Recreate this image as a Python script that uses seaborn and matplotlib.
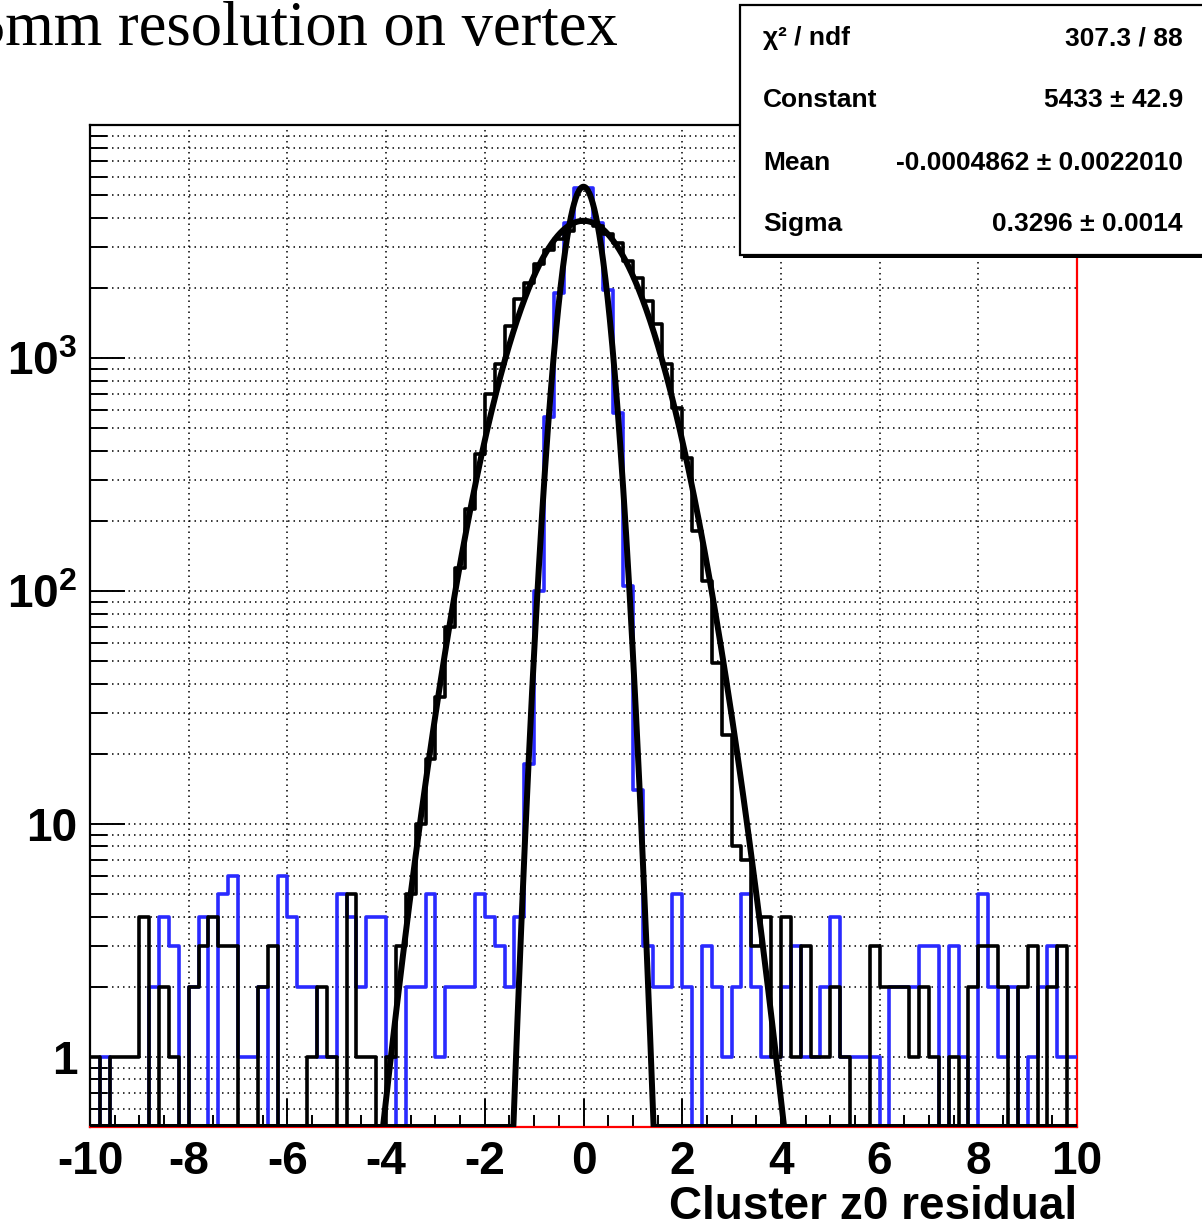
import numpy as np
import pandas as pd
import matplotlib
matplotlib.use("Agg")
import matplotlib.pyplot as plt
from matplotlib import font_manager
from matplotlib.patches import Rectangle
from matplotlib.ticker import FixedLocator, FixedFormatter, NullFormatter
import seaborn as sns

# ---------------------------------------------------------------- data
# 100 bins of width 0.2 on [-10, 10]
X_MIN, X_MAX, N_BINS = -10.0, 10.0, 100

# residuals with the 5 mm vertex constraint (blue)
narrow_counts = [
    0, 1, 0, 0, 0, 0, 2, 4, 3, 0,
    2, 4, 0, 5, 6, 1, 1, 2, 0, 6,
    4, 2, 2, 1, 1, 5, 4, 2, 4, 4,
    1, 0, 2, 2, 5, 1, 2, 2, 2, 5,
    4, 3, 2, 4, 18, 100, 560, 1900, 3800, 5350,
    5350, 3800, 1950, 580, 105, 14, 3, 2, 2, 5,
    2, 0, 3, 2, 1, 2, 5, 2, 1, 1,
    2, 3, 1, 1, 2, 4, 1, 1, 1, 1,
    0, 2, 2, 2, 3, 3, 0, 3, 1, 0,
    5, 2, 1, 2, 0, 1, 2, 3, 1, 1,
]

# residuals without the vertex constraint (black)
wide_counts = [
    1, 0, 1, 1, 1, 4, 0, 2, 1, 0,
    2, 3, 4, 3, 3, 0, 0, 2, 3, 0,
    0, 0, 1, 2, 1, 0, 5, 1, 1, 0,
    1, 3, 5, 10, 19, 35, 70, 125, 225, 386,
    700, 945, 1370, 1790, 2100, 2540, 2900, 3250, 3500, 3850,
    3850, 3700, 3400, 3100, 2600, 2200, 1750, 1400, 945, 610,
    373, 180, 110, 49, 24, 8, 7, 3, 4, 1,
    4, 1, 3, 1, 1, 2, 1, 0, 0, 3,
    2, 2, 2, 1, 2, 1, 0, 1, 0, 2,
    3, 3, 2, 0, 2, 3, 0, 2, 3, 0,
]

# gaussian fit parameters
NARROW_CONST, NARROW_MEAN, NARROW_SIGMA = 5433.0, -0.0004862, 0.3296
WIDE_CONST, WIDE_MEAN, WIDE_SIGMA = 3880.0, 0.0, 0.96

stats_rows = [
    ("\u03c7\u00b2 / ndf", "307.3 / 88"),
    ("Constant", "5433 \u00b1 42.9"),
    ("Mean", "-0.0004862 \u00b1 0.0022010"),
    ("Sigma", "0.3296 \u00b1 0.0014"),
]

title_text = "5mm resolution on vertex"
x_title = "Cluster z0 residual"
x_tick_values = [-10, -8, -6, -4, -2, 0, 2, 4, 6, 8, 10]
y_tick_values = [1, 10, 100, 1000]
y_tick_labels = ["1", "10", "$10^{2}$", "$10^{3}$"]

Y_MIN, Y_MAX = 0.5, 1.0e4

# ---------------------------------------------------------------- style
sns.set_style("white")
available = {f.name for f in font_manager.fontManager.ttflist}
SANS = "Liberation Sans" if "Liberation Sans" in available else "DejaVu Sans"
SERIF = "Liberation Serif" if "Liberation Serif" in available else "DejaVu Serif"
plt.rcParams["font.family"] = [SANS, "DejaVu Sans"]
plt.rcParams["font.weight"] = "bold"
plt.rcParams["text.color"] = "black"
plt.rcParams["xtick.color"] = "black"
plt.rcParams["ytick.color"] = "black"
plt.rcParams["axes.labelcolor"] = "black"
plt.rcParams["axes.unicode_minus"] = False
plt.rcParams["mathtext.fontset"] = "custom"
plt.rcParams["mathtext.rm"] = f"{SANS}:bold"
plt.rcParams["mathtext.bf"] = f"{SANS}:bold"
plt.rcParams["mathtext.it"] = f"{SANS}:bold"

BLUE = "#2a2aff"
RED = "#ff0000"

W, H = 1202, 1229
fig = plt.figure(figsize=(W / 100, H / 100), dpi=100)
fig.patch.set_facecolor("white")
ax = fig.add_axes([90 / W, 1 - 1127 / H, (1077 - 90) / W, (1127 - 125) / H])
ax.set_facecolor("white")

edges = np.linspace(X_MIN, X_MAX, N_BINS + 1)
centers = 0.5 * (edges[:-1] + edges[1:])
hist_df = pd.DataFrame({
    "z0": centers,
    "narrow": np.asarray(narrow_counts, dtype=float),
    "wide": np.asarray(wide_counts, dtype=float),
})

sns.histplot(data=hist_df, x="z0", weights="narrow", bins=list(edges),
             element="step", fill=False, color=BLUE, linewidth=2.6, ax=ax,
             zorder=3)
sns.histplot(data=hist_df, x="z0", weights="wide", bins=list(edges),
             element="step", fill=False, color="black", linewidth=2.6, ax=ax,
             zorder=4)

# fitted gaussians, held at the frame floor where they drop below it
xs = np.linspace(X_MIN, X_MAX, 4001)
narrow_fit = NARROW_CONST * np.exp(-0.5 * ((xs - NARROW_MEAN) / NARROW_SIGMA) ** 2)
wide_fit = WIDE_CONST * np.exp(-0.5 * ((xs - WIDE_MEAN) / WIDE_SIGMA) ** 2)
fit_df = pd.DataFrame({"x": xs,
                       "wide": np.maximum(wide_fit, Y_MIN),
                       "narrow": np.maximum(narrow_fit, Y_MIN)})
sns.lineplot(data=fit_df, x="x", y="wide", color="black", linewidth=4.3,
             estimator=None, sort=False, ax=ax, zorder=5)
sns.lineplot(data=fit_df, x="x", y="narrow", color="black", linewidth=4.3,
             estimator=None, sort=False, ax=ax, zorder=5)

ax.set_yscale("log", nonpositive="clip")
ax.set_xlim(X_MIN, X_MAX)
ax.set_ylim(Y_MIN, Y_MAX)
ax.set_xlabel("")
ax.set_ylabel("")

# ticks
ax.xaxis.set_major_locator(FixedLocator(x_tick_values))
ax.xaxis.set_major_formatter(FixedFormatter([str(v) for v in x_tick_values]))
ax.xaxis.set_minor_locator(FixedLocator(np.arange(X_MIN, X_MAX + 0.01, 0.5)))
ax.yaxis.set_major_locator(FixedLocator(y_tick_values))
ax.yaxis.set_major_formatter(FixedFormatter(y_tick_labels))
minor_y = [m * 10.0 ** k for k in range(-1, 4) for m in range(2, 10)]
minor_y = [v for v in minor_y if Y_MIN < v < Y_MAX and v not in y_tick_values]
ax.yaxis.set_minor_locator(FixedLocator(minor_y))
ax.yaxis.set_minor_formatter(NullFormatter())
ax.xaxis.set_minor_formatter(NullFormatter())

ax.tick_params(axis="y", which="major", direction="in", length=25, width=1.4,
               labelsize=33, pad=9, left=True, right=False, colors="black")
ax.tick_params(axis="y", which="minor", direction="in", length=12.5, width=1.4,
               left=True, right=False, colors="black")
ax.tick_params(axis="x", which="major", direction="in", length=20, width=1.4,
               labelsize=33, pad=9, bottom=True, top=False, colors="black")
ax.tick_params(axis="x", which="minor", direction="in", length=9, width=1.4,
               bottom=True, top=False, colors="black")
for lab in ax.get_xticklabels() + ax.get_yticklabels():
    lab.set_fontweight("bold")

# dotted grid
dots = (0, (1.0, 2.6))
ax.set_axisbelow(True)
ax.xaxis.grid(True, which="major", color="black", linestyle=dots, linewidth=1.1)
ax.yaxis.grid(True, which="both", color="black", linestyle=dots, linewidth=1.1)

for side in ("left", "top"):
    ax.spines[side].set_color("black")
    ax.spines[side].set_linewidth(1.6)
for side in ("right", "bottom"):
    ax.spines[side].set_color(RED)
    ax.spines[side].set_linewidth(1.6)

# title, its first character running off the left edge
fig.text(-26 / W, 1 - 45 / H, title_text, family=SERIF, fontweight="normal",
         fontsize=45, color="black", ha="left", va="baseline")

# axis title
fig.text(1077 / W, 1 - 1219 / H, x_title, fontsize=33, fontweight="bold",
         ha="right", va="baseline")

# fit statistics box with drop shadow
bx0, by0, by1 = 740 / W, 1 - 255 / H, 1 - 5 / H
fig.add_artist(Rectangle((bx0 + 3 / W, by0 - 3 / H), 0.5, by1 - by0,
                         transform=fig.transFigure, facecolor="black",
                         edgecolor="none", zorder=8))
fig.add_artist(Rectangle((bx0, by0), 0.5, by1 - by0, transform=fig.transFigure,
                         facecolor="white", edgecolor="black", linewidth=1.6,
                         zorder=9))
row_y = [38, 100, 163, 224]
for (name, value), yy in zip(stats_rows, row_y):
    fig.text(763 / W, 1 - yy / H, name, fontsize=19, fontweight="bold",
             ha="left", va="center", zorder=10)
    fig.text(1183 / W, 1 - yy / H, value, fontsize=19, fontweight="bold",
             ha="right", va="center", zorder=10)

fig.savefig("out.png", dpi=100, facecolor="white")
